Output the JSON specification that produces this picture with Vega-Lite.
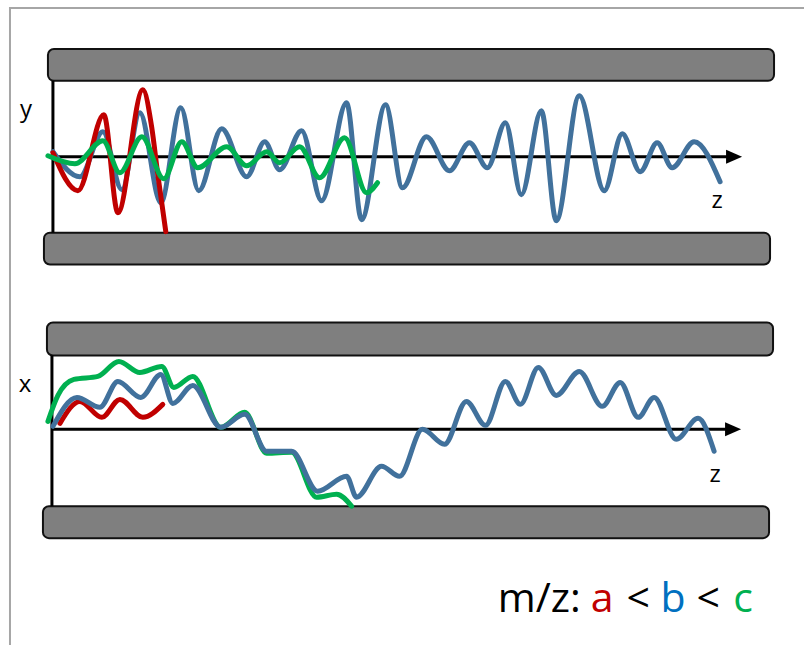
{
  "$schema": "https://vega.github.io/schema/vega-lite/v6.json",
  "width": 805,
  "height": 646,
  "autosize": {"type": "fit", "contains": "padding"},
  "padding": 0,
  "background": "white",
  "config": {"view": {"stroke": null}, "axis": {"domain": false}},
  "datasets": {
    "frame": [
      {"x0": 10, "x1": 10, "y0": 7, "y1": 646},
      {"x0": 9, "x1": 805, "y0": 8, "y1": 8}
    ],
    "electrodes": [
      {"x0": 48, "x1": 775, "y0": 49, "y1": 81},
      {"x0": 44, "x1": 771, "y0": 233, "y1": 265},
      {"x0": 47, "x1": 774, "y0": 323, "y1": 356},
      {"x0": 43, "x1": 770, "y0": 507, "y1": 539}
    ],
    "axes": [
      {"x0": 53, "x1": 53, "y0": 81, "y1": 233},
      {"x0": 53, "x1": 730, "y0": 157, "y1": 157},
      {"x0": 52, "x1": 52, "y0": 356, "y1": 507},
      {"x0": 52, "x1": 730, "y0": 430, "y1": 430}
    ],
    "arrows": [{"x": 735, "y": 157}, {"x": 734, "y": 430}],
    "axislabels": [
      {"t": "y", "x": 26, "y": 117},
      {"t": "z", "x": 718, "y": 208},
      {"t": "x", "x": 25, "y": 393},
      {"t": "z", "x": 716, "y": 483}
    ],
    "legend": [
      {"t": "m/z:", "k": "k", "x": 540, "y": 613},
      {"t": "a", "k": "a", "x": 603, "y": 613},
      {"t": "<", "k": "k", "x": 639, "y": 613},
      {"t": "b", "k": "b", "x": 674, "y": 613},
      {"t": "<", "k": "k", "x": 709, "y": 613},
      {"t": "c", "k": "c", "x": 744, "y": 613}
    ],
    "curves": [
      {"id": "yb", "s": "b", "z": 53, "v": 152},
      {"id": "yb", "s": "b", "z": 80, "v": 177},
      {"id": "yb", "s": "b", "z": 103, "v": 132},
      {"id": "yb", "s": "b", "z": 122, "v": 190},
      {"id": "yb", "s": "b", "z": 140, "v": 113},
      {"id": "yb", "s": "b", "z": 161, "v": 203},
      {"id": "yb", "s": "b", "z": 181, "v": 108},
      {"id": "yb", "s": "b", "z": 199, "v": 191},
      {"id": "yb", "s": "b", "z": 222, "v": 129},
      {"id": "yb", "s": "b", "z": 247, "v": 177},
      {"id": "yb", "s": "b", "z": 265, "v": 142},
      {"id": "yb", "s": "b", "z": 280, "v": 170},
      {"id": "yb", "s": "b", "z": 302, "v": 131},
      {"id": "yb", "s": "b", "z": 322, "v": 201},
      {"id": "yb", "s": "b", "z": 347, "v": 103},
      {"id": "yb", "s": "b", "z": 362, "v": 220},
      {"id": "yb", "s": "b", "z": 386, "v": 105},
      {"id": "yb", "s": "b", "z": 403, "v": 188},
      {"id": "yb", "s": "b", "z": 427, "v": 137},
      {"id": "yb", "s": "b", "z": 450, "v": 171},
      {"id": "yb", "s": "b", "z": 470, "v": 143},
      {"id": "yb", "s": "b", "z": 488, "v": 168},
      {"id": "yb", "s": "b", "z": 506, "v": 123},
      {"id": "yb", "s": "b", "z": 522, "v": 195},
      {"id": "yb", "s": "b", "z": 542, "v": 111},
      {"id": "yb", "s": "b", "z": 557, "v": 221},
      {"id": "yb", "s": "b", "z": 580, "v": 96},
      {"id": "yb", "s": "b", "z": 605, "v": 191},
      {"id": "yb", "s": "b", "z": 623, "v": 134},
      {"id": "yb", "s": "b", "z": 641, "v": 172},
      {"id": "yb", "s": "b", "z": 658, "v": 143},
      {"id": "yb", "s": "b", "z": 673, "v": 168},
      {"id": "yb", "s": "b", "z": 695, "v": 142},
      {"id": "yb", "s": "b", "z": 721, "v": 182},
      {"id": "ya", "s": "a", "z": 53, "v": 153},
      {"id": "ya", "s": "a", "z": 78, "v": 191},
      {"id": "ya", "s": "a", "z": 104, "v": 115},
      {"id": "ya", "s": "a", "z": 118, "v": 213},
      {"id": "ya", "s": "a", "z": 143, "v": 90},
      {"id": "ya", "s": "a", "z": 152, "v": 128},
      {"id": "ya", "s": "a", "z": 158, "v": 175},
      {"id": "ya", "s": "a", "z": 166, "v": 232},
      {"id": "yc", "s": "c", "z": 48, "v": 156},
      {"id": "yc", "s": "c", "z": 75, "v": 164},
      {"id": "yc", "s": "c", "z": 103, "v": 141},
      {"id": "yc", "s": "c", "z": 120, "v": 173},
      {"id": "yc", "s": "c", "z": 142, "v": 137},
      {"id": "yc", "s": "c", "z": 164, "v": 179},
      {"id": "yc", "s": "c", "z": 182, "v": 142},
      {"id": "yc", "s": "c", "z": 198, "v": 168},
      {"id": "yc", "s": "c", "z": 227, "v": 147},
      {"id": "yc", "s": "c", "z": 247, "v": 166},
      {"id": "yc", "s": "c", "z": 267, "v": 152},
      {"id": "yc", "s": "c", "z": 280, "v": 163},
      {"id": "yc", "s": "c", "z": 300, "v": 147},
      {"id": "yc", "s": "c", "z": 320, "v": 178},
      {"id": "yc", "s": "c", "z": 345, "v": 138},
      {"id": "yc", "s": "c", "z": 367, "v": 193},
      {"id": "yc", "s": "c", "z": 378, "v": 183},
      {"id": "xb", "s": "b", "z": 53, "v": 427},
      {"id": "xb", "s": "b", "z": 77, "v": 398},
      {"id": "xb", "s": "b", "z": 100, "v": 408},
      {"id": "xb", "s": "b", "z": 118, "v": 382},
      {"id": "xb", "s": "b", "z": 141, "v": 398},
      {"id": "xb", "s": "b", "z": 161, "v": 375},
      {"id": "xb", "s": "b", "z": 173, "v": 404},
      {"id": "xb", "s": "b", "z": 193, "v": 386},
      {"id": "xb", "s": "b", "z": 221, "v": 428},
      {"id": "xb", "s": "b", "z": 245, "v": 415},
      {"id": "xb", "s": "b", "z": 267, "v": 452},
      {"id": "xb", "s": "b", "z": 292, "v": 452},
      {"id": "xb", "s": "b", "z": 318, "v": 492},
      {"id": "xb", "s": "b", "z": 347, "v": 477},
      {"id": "xb", "s": "b", "z": 357, "v": 498},
      {"id": "xb", "s": "b", "z": 382, "v": 467},
      {"id": "xb", "s": "b", "z": 400, "v": 477},
      {"id": "xb", "s": "b", "z": 423, "v": 430},
      {"id": "xb", "s": "b", "z": 445, "v": 445},
      {"id": "xb", "s": "b", "z": 467, "v": 402},
      {"id": "xb", "s": "b", "z": 486, "v": 426},
      {"id": "xb", "s": "b", "z": 506, "v": 382},
      {"id": "xb", "s": "b", "z": 521, "v": 405},
      {"id": "xb", "s": "b", "z": 539, "v": 368},
      {"id": "xb", "s": "b", "z": 557, "v": 396},
      {"id": "xb", "s": "b", "z": 580, "v": 372},
      {"id": "xb", "s": "b", "z": 603, "v": 407},
      {"id": "xb", "s": "b", "z": 621, "v": 383},
      {"id": "xb", "s": "b", "z": 639, "v": 418},
      {"id": "xb", "s": "b", "z": 655, "v": 398},
      {"id": "xb", "s": "b", "z": 677, "v": 440},
      {"id": "xb", "s": "b", "z": 699, "v": 419},
      {"id": "xb", "s": "b", "z": 715, "v": 452},
      {"id": "xc", "s": "c", "z": 48, "v": 422},
      {"id": "xc", "s": "c", "z": 58, "v": 396},
      {"id": "xc", "s": "c", "z": 74, "v": 380},
      {"id": "xc", "s": "c", "z": 98, "v": 377},
      {"id": "xc", "s": "c", "z": 119, "v": 362},
      {"id": "xc", "s": "c", "z": 140, "v": 373},
      {"id": "xc", "s": "c", "z": 162, "v": 367},
      {"id": "xc", "s": "c", "z": 174, "v": 388},
      {"id": "xc", "s": "c", "z": 193, "v": 377},
      {"id": "xc", "s": "c", "z": 221, "v": 428},
      {"id": "xc", "s": "c", "z": 245, "v": 413},
      {"id": "xc", "s": "c", "z": 267, "v": 454},
      {"id": "xc", "s": "c", "z": 292, "v": 453},
      {"id": "xc", "s": "c", "z": 317, "v": 498},
      {"id": "xc", "s": "c", "z": 337, "v": 495},
      {"id": "xc", "s": "c", "z": 352, "v": 507},
      {"id": "xa", "s": "a", "z": 60, "v": 424},
      {"id": "xa", "s": "a", "z": 80, "v": 402},
      {"id": "xa", "s": "a", "z": 102, "v": 418},
      {"id": "xa", "s": "a", "z": 120, "v": 400},
      {"id": "xa", "s": "a", "z": 143, "v": 418},
      {"id": "xa", "s": "a", "z": 163, "v": 405}
    ]
  },
  "layer": [
    {
      "data": {"name": "frame"},
      "mark": {"type": "rule", "color": "#a6a6a6", "strokeWidth": 2},
      "encoding": {
        "x": {"field": "x0", "type": "quantitative", "scale": {"domain": [0, 805], "nice": false, "zero": false}, "axis": null},
        "x2": {"field": "x1"},
        "y": {"field": "y0", "type": "quantitative", "scale": {"domain": [0, 646], "nice": false, "zero": false, "reverse": true}, "axis": null},
        "y2": {"field": "y1"}
      }
    },
    {
      "data": {"name": "electrodes"},
      "mark": {"type": "rect", "fill": "#7f7f7f", "stroke": "#111111", "strokeWidth": 2, "cornerRadius": 6},
      "encoding": {
        "x": {"field": "x0", "type": "quantitative", "scale": {"domain": [0, 805], "nice": false, "zero": false}, "axis": null},
        "x2": {"field": "x1"},
        "y": {"field": "y0", "type": "quantitative", "scale": {"domain": [0, 646], "nice": false, "zero": false, "reverse": true}, "axis": null},
        "y2": {"field": "y1"}
      }
    },
    {
      "data": {"name": "axes"},
      "mark": {"type": "rule", "color": "black", "strokeWidth": 3},
      "encoding": {
        "x": {"field": "x0", "type": "quantitative", "scale": {"domain": [0, 805], "nice": false, "zero": false}, "axis": null},
        "x2": {"field": "x1"},
        "y": {"field": "y0", "type": "quantitative", "scale": {"domain": [0, 646], "nice": false, "zero": false, "reverse": true}, "axis": null},
        "y2": {"field": "y1"}
      }
    },
    {
      "data": {"name": "arrows"},
      "mark": {"type": "point", "shape": "M-1,-0.875L1,0L-1,0.875Z", "filled": true, "color": "black", "opacity": 1, "size": 256},
      "encoding": {
        "x": {"field": "x", "type": "quantitative", "scale": {"domain": [0, 805], "nice": false, "zero": false}, "axis": null},
        "y": {"field": "y", "type": "quantitative", "scale": {"domain": [0, 646], "nice": false, "zero": false, "reverse": true}, "axis": null}
      }
    },
    {
      "data": {"name": "curves"},
      "transform": [{"filter": "datum.id == 'yb' || datum.id == 'xc'"}],
      "mark": {"type": "line", "strokeWidth": 5, "interpolate": "monotone", "strokeCap": "round", "strokeJoin": "round"},
      "encoding": {
        "x": {"field": "z", "type": "quantitative", "scale": {"domain": [0, 805], "nice": false, "zero": false}, "axis": null},
        "y": {"field": "v", "type": "quantitative", "scale": {"domain": [0, 646], "nice": false, "zero": false, "reverse": true}, "axis": null},
        "detail": {"field": "id"},
        "stroke": {"field": "s", "type": "nominal", "scale": {"domain": ["a", "b", "c"], "range": ["#c00000", "#41719c", "#00b050"]}, "legend": null}
      }
    },
    {
      "data": {"name": "curves"},
      "transform": [{"filter": "datum.id == 'ya' || datum.id == 'xa'"}],
      "mark": {"type": "line", "strokeWidth": 5, "interpolate": "monotone", "strokeCap": "round", "strokeJoin": "round"},
      "encoding": {
        "x": {"field": "z", "type": "quantitative", "scale": {"domain": [0, 805], "nice": false, "zero": false}, "axis": null},
        "y": {"field": "v", "type": "quantitative", "scale": {"domain": [0, 646], "nice": false, "zero": false, "reverse": true}, "axis": null},
        "detail": {"field": "id"},
        "stroke": {"field": "s", "type": "nominal", "scale": {"domain": ["a", "b", "c"], "range": ["#c00000", "#41719c", "#00b050"]}, "legend": null}
      }
    },
    {
      "data": {"name": "curves"},
      "transform": [{"filter": "datum.id == 'yc' || datum.id == 'xb'"}],
      "mark": {"type": "line", "strokeWidth": 5, "interpolate": "monotone", "strokeCap": "round", "strokeJoin": "round"},
      "encoding": {
        "x": {"field": "z", "type": "quantitative", "scale": {"domain": [0, 805], "nice": false, "zero": false}, "axis": null},
        "y": {"field": "v", "type": "quantitative", "scale": {"domain": [0, 646], "nice": false, "zero": false, "reverse": true}, "axis": null},
        "detail": {"field": "id"},
        "stroke": {"field": "s", "type": "nominal", "scale": {"domain": ["a", "b", "c"], "range": ["#c00000", "#41719c", "#00b050"]}, "legend": null}
      }
    },
    {
      "data": {"name": "axislabels"},
      "mark": {"type": "text", "font": "Open Sans", "fontSize": 24, "align": "center", "baseline": "alphabetic", "color": "black"},
      "encoding": {
        "x": {"field": "x", "type": "quantitative", "scale": {"domain": [0, 805], "nice": false, "zero": false}, "axis": null},
        "y": {"field": "y", "type": "quantitative", "scale": {"domain": [0, 646], "nice": false, "zero": false, "reverse": true}, "axis": null},
        "text": {"field": "t"}
      }
    },
    {
      "data": {"name": "legend"},
      "mark": {"type": "text", "font": "Open Sans", "fontSize": 41, "align": "center", "baseline": "alphabetic"},
      "encoding": {
        "x": {"field": "x", "type": "quantitative", "scale": {"domain": [0, 805], "nice": false, "zero": false}, "axis": null},
        "y": {"field": "y", "type": "quantitative", "scale": {"domain": [0, 646], "nice": false, "zero": false, "reverse": true}, "axis": null},
        "text": {"field": "t"},
        "fill": {"field": "k", "type": "nominal", "scale": {"domain": ["k", "a", "b", "c"], "range": ["#000000", "#c00000", "#0070c0", "#00b050"]}, "legend": null}
      }
    }
  ]
}
